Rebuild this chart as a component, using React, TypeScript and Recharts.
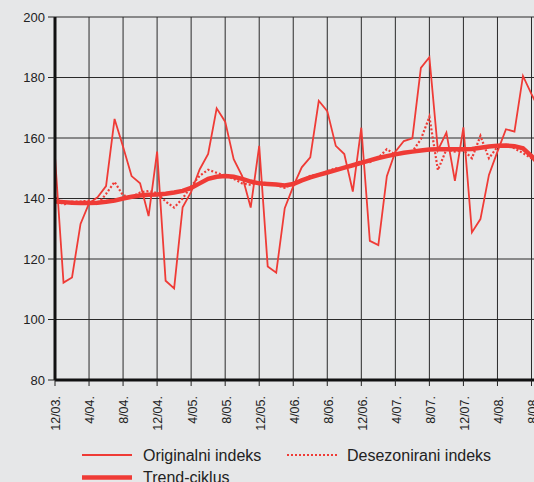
import React from 'react';
import { LineChart, Line, XAxis, YAxis, CartesianGrid } from 'recharts';

const months = [
  '12/03.',
  '1/04.', '2/04.', '3/04.', '4/04.', '5/04.', '6/04.', '7/04.', '8/04.', '9/04.', '10/04.', '11/04.', '12/04.',
  '1/05.', '2/05.', '3/05.', '4/05.', '5/05.', '6/05.', '7/05.', '8/05.', '9/05.', '10/05.', '11/05.', '12/05.',
  '1/06.', '2/06.', '3/06.', '4/06.', '5/06.', '6/06.', '7/06.', '8/06.', '9/06.', '10/06.', '11/06.', '12/06.',
  '1/07.', '2/07.', '3/07.', '4/07.', '5/07.', '6/07.', '7/07.', '8/07.', '9/07.', '10/07.', '11/07.', '12/07.',
  '1/08.', '2/08.', '3/08.', '4/08.', '5/08.', '6/08.', '7/08.', '8/08.', '9/08.',
];

const originalIndex = [
  153.8, 112.2, 113.9, 131.6, 138.4, 140.4, 144.1, 166.3, 157.1, 147.4,
  145, 134.2, 155.5, 112.8, 110.3, 137.1, 142.2, 149.6, 154.7, 169.8,
  165.4, 153, 147.4, 137, 157.4, 117.5, 115.5, 136.8, 144, 150.3,
  153.6, 172.3, 168.9, 157.4, 154.7, 142.3, 163.4, 126, 124.6, 147.4,
  155.5, 159, 159.9, 183.2, 186.7, 156, 161.8, 145.8, 163.5, 128.8,
  133.2, 147.8, 155.5, 162.9, 162.1, 180.5, 174.5, 169,
];

const deseasonalIndex = [
  140.5, 138, 139, 139, 139.3, 138, 141.5, 145.5, 141, 140.5,
  142, 142.5, 141.8, 139, 137, 140, 144, 147.5, 149.5, 148.5,
  147.5, 146.5, 145, 144.5, 145.5, 145, 144.5, 143.5, 145, 146,
  147.5, 148, 149, 150, 150, 151, 152.5, 152, 153.5, 156.3,
  154.5, 155, 155.5, 159.6, 167, 149.4, 156.2, 155.5, 156, 153.3,
  160.7, 153.3, 157.1, 157.7, 156.6, 155, 153.3, 151.5,
];

const trendCycle = [
  139, 138.8, 138.6, 138.5, 138.5, 138.6, 138.9, 139.3, 140, 140.6,
  141, 141.2, 141.3, 141.6, 142, 142.5, 143.5, 145, 146.5, 147.2,
  147.4, 147.2, 146.5, 145.6, 145, 144.8, 144.6, 144.3, 144.8, 146,
  147, 147.8, 148.6, 149.4, 150.2, 151, 151.8, 152.6, 153.4, 154,
  154.6, 155.1, 155.5, 155.9, 156.2, 156.3, 156.3, 156.3, 156.3, 156.4,
  156.8, 157.2, 157.4, 157.5, 157.3, 156.6, 154, 151,
];

const xTickLabels = [
  '12/03.', '4/04.', '8/04.', '12/04.', '4/05.', '8/05.', '12/05.', '4/06.',
  '8/06.', '12/06.', '4/07.', '8/07.', '12/07.', '4/08.', '8/08.',
];
const yTicks = [80, 100, 120, 140, 160, 180, 200];

const seriesNames = ['Originalni indeks', 'Desezonirani indeks', 'Trend-ciklus'];

const data = months.map((m, i) => ({
  month: m,
  original: originalIndex[i],
  deseasonal: deseasonalIndex[i],
  trend: trendCycle[i],
}));

const RED = '#ef3b36';
const FONT = '"Liberation Sans", Arial, Helvetica, sans-serif';

const XTick = (props: any) => {
  const { x, y, payload } = props;
  return (
    <text
      transform={`translate(${x + 1},${y + 8}) rotate(-90)`}
      textAnchor="end"
      dy="0.35em"
      fontSize={12.5}
      fill="#222"
      fontFamily={FONT}
    >
      {payload.value}
    </text>
  );
};

export default function App() {
  return (
    <div
      style={{
        position: 'absolute',
        left: 0,
        top: 0,
        width: 534,
        height: 482,
        overflow: 'hidden',
        background: '#e6e7e8',
        fontFamily: FONT,
      }}
    >
      <LineChart
        width={560}
        height={482}
        data={data}
        margin={{ top: 17, right: 20, left: 0, bottom: 52 }}
      >
        <CartesianGrid stroke="#2a2a2a" strokeWidth={1} />
        <XAxis
          dataKey="month"
          type="category"
          scale="point"
          ticks={xTickLabels}
          interval={0}
          height={50}
          tickSize={6}
          tickLine={{ stroke: '#222' }}
          axisLine={{ stroke: '#111', strokeWidth: 3 }}
          tick={<XTick />}
          padding={{ left: 0, right: 0 }}
        />
        <YAxis
          type="number"
          domain={[80, 200]}
          ticks={yTicks}
          width={55}
          tickSize={7}
          tickMargin={3}
          axisLine={{ stroke: '#111', strokeWidth: 3 }}
          tickLine={{ stroke: '#222' }}
          tick={{ fill: '#222', fontSize: 13, fontFamily: FONT }}
          allowDataOverflow
        />
        <Line
          type="linear"
          dataKey="original"
          name={seriesNames[0]}
          stroke={RED}
          strokeWidth={1.8}
          dot={false}
          isAnimationActive={false}
        />
        <Line
          type="linear"
          dataKey="deseasonal"
          name={seriesNames[1]}
          stroke={RED}
          strokeWidth={2.2}
          strokeDasharray="2 2"
          dot={false}
          isAnimationActive={false}
        />
        <Line
          type="linear"
          dataKey="trend"
          name={seriesNames[2]}
          stroke={RED}
          strokeWidth={4.5}
          dot={false}
          isAnimationActive={false}
        />
      </LineChart>
      <svg
        width={534}
        height={482}
        style={{ position: 'absolute', left: 0, top: 0, pointerEvents: 'none' }}
      >
        <line x1={82} x2={132} y1={455} y2={455} stroke={RED} strokeWidth={1.8} />
        <text x={143} y={460.5} fontSize={16} fill="#222" fontFamily={FONT}>
          {seriesNames[0]}
        </text>
        <line x1={287} x2={339} y1={455} y2={455} stroke={RED} strokeWidth={2.2} strokeDasharray="2 2" />
        <text x={347} y={460.5} fontSize={16} fill="#222" fontFamily={FONT}>
          {seriesNames[1]}
        </text>
        <line x1={82} x2={132} y1={477.5} y2={477.5} stroke={RED} strokeWidth={4.5} />
        <text x={143} y={483} fontSize={16} fill="#222" fontFamily={FONT}>
          {seriesNames[2]}
        </text>
      </svg>
    </div>
  );
}
